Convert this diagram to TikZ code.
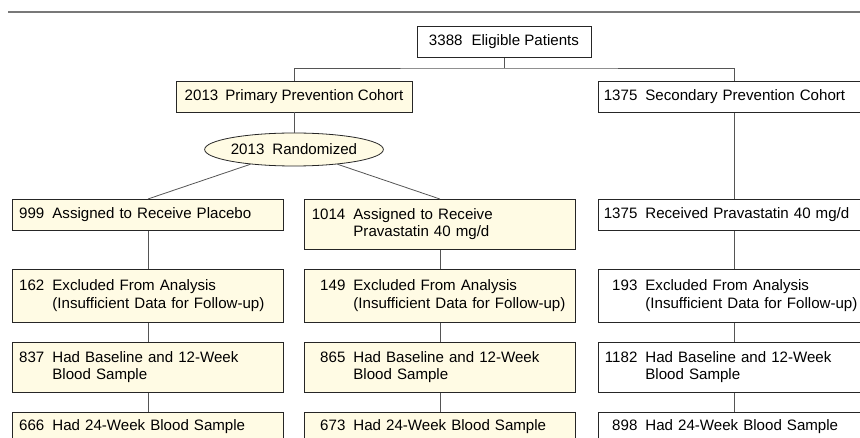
\documentclass[tikz,border=0pt]{standalone}
\usepackage{fontspec}
\setmainfont{Liberation Sans}
\usetikzlibrary{positioning, shapes.geometric}
\definecolor{cream}{RGB}{255,251,228}
\definecolor{rulegray}{RGB}{120,120,120}
\definecolor{linkgray}{RGB}{85,85,85}
\tikzset{
  every node/.style={font=\fontsize{15.1}{17.5}\selectfont},
  flowbox/.style={
    draw=black!85, line width=0.8pt,
    text width=257pt, inner xsep=7pt, inner ysep=0pt,
    align=left, minimum height=31pt
  },
  sidebox/.style={flowbox, text width=262pt, inner xsep=5pt},
  topbox/.style={
    draw=black!85, line width=0.8pt,
    inner xsep=0pt, inner ysep=0pt, minimum height=31pt
  },
  trial/.style={fill=cream},
  link/.style={draw=linkgray, line width=0.8pt},
}
\newcommand{\tally}[3][34pt]{\mbox{\makebox[#1][r]{#2}\hspace{8pt}\begin{tabular}[t]{@{}l@{}}#3\end{tabular}}}

\begin{document}
\begin{tikzpicture}[x=1pt, y=-1pt]
  \useasboundingbox (0,0) rectangle (860,438);
  \clip (0,0) rectangle (860,438);

  \draw[rulegray, line width=1.2pt] (8,12) -- (860,12);

  \node[topbox, minimum width=174pt] (elig) at (504,42)
    {3388\hspace{9pt}Eligible Patients};
  \node[topbox, trial, minimum width=236pt] (prim) at (294,96.5)
    {2013\hspace{7pt}Primary Prevention Cohort};
  \node[sidebox, anchor=north west] (sec) at (598,81)
    {\tally{1375}{Secondary Prevention Cohort}};
  \node[draw=black!85, line width=0.8pt, ellipse, trial, inner sep=0pt,
        minimum width=164pt, minimum height=33pt] (rand) at (294,149.5)
    {2013\hspace{8pt}Randomized};

  \node[flowbox, trial, anchor=north west] (placebo) at (12,199)
    {\tally[25pt]{999}{Assigned to Receive Placebo}};
  \node[flowbox, trial, anchor=north west, minimum height=50pt] (prava) at (304,199)
    {\tally{1014}{Assigned to Receive\\Pravastatin 40 mg/d}};
  \node[sidebox, anchor=north west] (recv) at (598,199)
    {\tally{1375}{Received Pravastatin 40 mg/d}};

  \node[flowbox, trial, anchor=north west, minimum height=53pt] (exclA) at (12,269)
    {\tally[25pt]{162}{Excluded From Analysis\\(Insufficient Data for Follow-up)}};
  \node[flowbox, trial, anchor=north west, minimum height=53pt] (exclB) at (304,269)
    {\tally{149}{Excluded From Analysis\\(Insufficient Data for Follow-up)}};
  \node[sidebox, anchor=north west, minimum height=53pt] (exclC) at (598,269)
    {\tally{193}{Excluded From Analysis\\(Insufficient Data for Follow-up)}};

  \node[flowbox, trial, anchor=north west, minimum height=50pt] (baseA) at (12,342)
    {\tally[25pt]{837}{Had Baseline and 12-Week\\Blood Sample}};
  \node[flowbox, trial, anchor=north west, minimum height=50pt] (baseB) at (304,342)
    {\tally{865}{Had Baseline and 12-Week\\Blood Sample}};
  \node[sidebox, anchor=north west, minimum height=50pt] (baseC) at (598,342)
    {\tally{1182}{Had Baseline and 12-Week\\Blood Sample}};

  \node[flowbox, trial, anchor=north west, minimum height=29pt] (wkA) at (12,412)
    {\tally[25pt]{666}{Had 24-Week Blood Sample}};
  \node[flowbox, trial, anchor=north west, minimum height=29pt] (wkB) at (304,412)
    {\tally{673}{Had 24-Week Blood Sample}};
  \node[sidebox, anchor=north west, minimum height=29pt] (wkC) at (598,412)
    {\tally{898}{Had 24-Week Blood Sample}};

  \coordinate (fork) at (504,68);
  \draw[link] (elig) -- (fork);
  \draw[link] (prim.north) |- (fork) -| (sec.north);
  \draw[link] (prim) -- (rand);
  \draw[link] (rand) -- (placebo.north);
  \draw[link] (rand) -- (prava.north);
  \draw[link] (sec) -- (recv);

  \draw[link] (placebo) -- (exclA);
  \draw[link] (exclA) -- (baseA);
  \draw[link] (baseA) -- (wkA);
  \draw[link] (prava) -- (exclB);
  \draw[link] (exclB) -- (baseB);
  \draw[link] (baseB) -- (wkB);
  \draw[link] (recv) -- (exclC);
  \draw[link] (exclC) -- (baseC);
  \draw[link] (baseC) -- (wkC);
\end{tikzpicture}
\end{document}
